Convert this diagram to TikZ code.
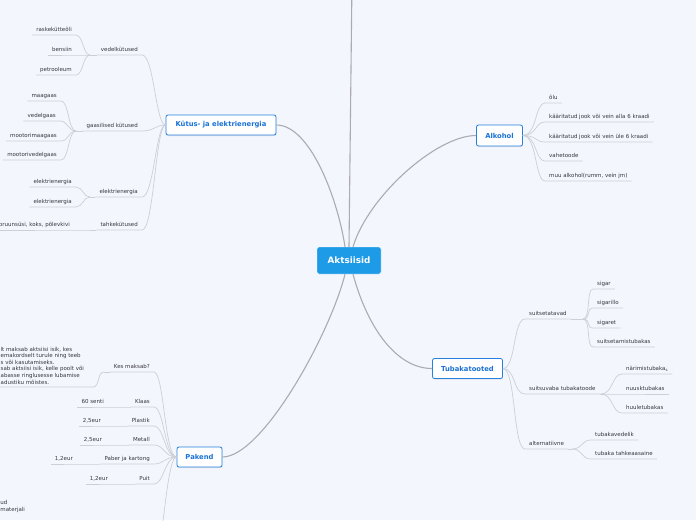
\documentclass[tikz,border=0pt]{standalone}
\usepackage{fontspec}
\setmainfont{DejaVu Sans}
\usetikzlibrary{shadows}
\definecolor{bgc}{RGB}{243,246,253}
\definecolor{mainc}{RGB}{172,172,176}
\definecolor{leafc}{RGB}{205,207,214}
\definecolor{leaftext}{RGB}{55,55,60}
\definecolor{boxblue}{RGB}{38,128,222}
\definecolor{boxtext}{RGB}{26,114,214}
\definecolor{centerfill}{RGB}{30,155,230}
\newcommand\leaffnt{\fontsize{5.5}{6.6}\selectfont}
\tikzset{
  leaf/.style={font=\leaffnt, text=leaftext, inner xsep=4pt, inner ysep=0pt, text height=4.5pt, text depth=3.6pt},
  lleaf/.style={leaf, anchor=south east},
  rleaf/.style={leaf, anchor=south west},
  mainline/.style={draw=mainc, line width=1.1pt},
  leafline/.style={draw=leafc, line width=0.7pt},
  topicbox/.style={draw=boxblue, line width=0.8pt, fill=white, rounded corners=2pt, text=boxtext,
    font=\fontsize{6.8}{8}\selectfont\bfseries, inner sep=0pt,
    drop shadow={opacity=0.18, shadow xshift=0.4pt, shadow yshift=-1pt}},
  centerbox/.style={fill=centerfill, draw=white, line width=0.4pt, rounded corners=2pt, text=white,
    font=\fontsize{8.8}{10}\selectfont\bfseries, inner sep=0pt, minimum width=64pt, minimum height=27pt}
}
\begin{document}
\begin{tikzpicture}[x=1pt,y=-1pt]
\useasboundingbox (0,0) rectangle (696,520);
\fill[bgc] (0,0) rectangle (696,520);
\begin{scope}
\clip (0,0) rectangle (696,520);

% ---------- coordinates ----------
\coordinate (topoff) at (352,-20);
\coordinate (Jv) at (90,55);
\coordinate (Jg) at (76,131);
\coordinate (Je) at (90,197);
\coordinate (Jt) at (90,230);
\coordinate (Js) at (583,319);
\coordinate (Jsv) at (601,394);
\coordinate (Jal) at (572,449);
\coordinate (Jkm) at (104,372);
\coordinate (kdR) at (93,387);
\coordinate (kdL) at (-3,387);
\coordinate (offc) at (148,585);

% ---------- main nodes ----------
\node[centerbox] (A) at (349,260.5) {Aktsiisid};
\node[topicbox, minimum width=110pt, minimum height=20pt] (K) at (221,125) {Kütus- ja elektrienergia};
\node[topicbox, minimum width=46pt, minimum height=21pt] (Al) at (499.5,135.5) {Alkohol};
\node[topicbox, minimum width=70pt, minimum height=20pt] (T) at (467.5,368.5) {Tubakatooted};
\node[topicbox, minimum width=45pt, minimum height=20pt] (P) at (199.5,457) {Pakend};

% ---------- Kütus- ja elektrienergia ----------
\node[lleaf] (vedel) at (142,55) {vedelkütused};
\node[lleaf] (gaas) at (142,131) {gaasilised kütused};
\node[lleaf] (elek) at (142,197) {elektrienergia};
\node[lleaf] (tahke) at (142,230) {tahkekütused};
\node[lleaf] (raske) at (76,35) {raskekütteõli};
\node[lleaf] (bens) at (76,55) {bensiin};
\node[lleaf] (petro) at (76,75) {petrooleum};
\node[lleaf] (maag) at (61,101) {maagaas};
\node[lleaf] (vedg) at (60,121) {vedelgaas};
\node[lleaf] (mmaag) at (61,141) {mootorimaagaas};
\node[lleaf] (mvedg) at (61,160) {mootorivedelgaas};
\node[lleaf] (elek1) at (76,187) {elektrienergia};
\node[lleaf] (elek2) at (76,207) {elektrienergia};
\node[lleaf] (tahk1) at (74,230) {pruunsüsi, koks, põlevkivi};

\foreach \n in {vedel,gaas,elek,tahke}
  \draw[leafline] (K.west) .. controls +(-10,0) and +(12,0) .. (\n.south east) -- (\n.south west);
\draw[leafline] (vedel.south west) -- (Jv);
\draw[leafline] (gaas.south west) -- (Jg);
\draw[leafline] (elek.south west) -- (Je);
\draw[leafline] (tahke.south west) -- (Jt);
\foreach \n in {raske,bens,petro}
  \draw[leafline] (Jv) .. controls +(-7,0) and +(7,0) .. (\n.south east) -- (\n.south west);
\foreach \n in {maag,vedg,mmaag,mvedg}
  \draw[leafline] (Jg) .. controls +(-8,0) and +(8,0) .. (\n.south east) -- (\n.south west);
\foreach \n in {elek1,elek2}
  \draw[leafline] (Je) .. controls +(-7,0) and +(7,0) .. (\n.south east) -- (\n.south west);
\draw[leafline] (Jt) -- (tahk1.south east) -- (tahk1.south west);

% ---------- Alkohol ----------
\node[rleaf] (olu) at (545,103) {õlu};
\node[rleaf] (alla) at (545,122) {kääritatud jook või vein alla 6 kraadi};
\node[rleaf] (yle) at (545,142) {kääritatud jook või vein üle 6 kraadi};
\node[rleaf] (vahe) at (545,161) {vahetoode};
\node[rleaf] (muu) at (545,181) {muu alkohol(rumm, vein jm)};
\foreach \n in {olu,alla,yle,vahe,muu}
  \draw[leafline] (Al.east) .. controls +(14,0) and +(-10,0) .. (\n.south west) -- (\n.south east);

% ---------- Tubakatooted ----------
\node[rleaf] (suits) at (525,319) {suitsetatavad};
\node[rleaf] (svaba) at (525,394) {suitsuvaba tubakatoode};
\node[rleaf] (alt) at (525,449) {alternatiivne};
\node[rleaf] (sigar) at (593,289) {sigar};
\node[rleaf] (sigarillo) at (593,308) {sigarillo};
\node[rleaf] (sigaret) at (593,328) {sigaret};
\node[rleaf] (suitstub) at (593,347) {suitsetamistubakas};
\node[rleaf] (narim) at (622,374) {närimistubaka\textsubscript{s}};
\node[rleaf] (nuusk) at (622,394) {nuusktubakas};
\node[rleaf] (huule) at (622,413) {huuletubakas};
\node[rleaf] (tvedel) at (591,440) {tubakavedelik};
\node[rleaf] (ttahke) at (591,459) {tubaka tahkeaasaine};
\foreach \n in {suits,svaba,alt}
  \draw[leafline] (T.east) .. controls +(13,0) and +(-12,0) .. (\n.south west) -- (\n.south east);
\draw[leafline] (suits.south east) -- (Js);
\draw[leafline] (svaba.south east) -- (Jsv);
\draw[leafline] (alt.south east) -- (Jal);
\foreach \n in {sigar,sigarillo,sigaret,suitstub}
  \draw[leafline] (Js) .. controls +(8,0) and +(-7,0) .. (\n.south west) -- (\n.south east);
\foreach \n in {narim,nuusk,huule}
  \draw[leafline] (Jsv) .. controls +(12,0) and +(-10,0) .. (\n.south west) -- (\n.south east);
\foreach \n in {tvedel,ttahke}
  \draw[leafline] (Jal) .. controls +(11,0) and +(-10,0) .. (\n.south west) -- (\n.south east);

% ---------- Pakend ----------
\node[lleaf] (kes) at (154,372) {Kes maksab?};
\node[font=\leaffnt, text=leaftext, align=left, anchor=north west, inner sep=0pt] (kesdesc) at (0.5,346.8)
  {lt maksab aktsiisi isik, kes\\emakordselt turule ning teeb\\s või kasutamiseks.\\sab aktsiisi isik, kelle poolt või\\abasse ringlusesse lubamise\\adustiku mõistes.};
\node[lleaf] (klaas) at (154,407) {Klaas};
\node[lleaf] (senti) at (108,407) {60 senti};
\node[lleaf] (plastik) at (154,426) {Plastik};
\node[lleaf] (eur1) at (105,426) {2,5eur};
\node[lleaf] (metall) at (154,445) {Metall};
\node[lleaf] (eur2) at (106,445) {2,5eur};
\node[lleaf] (paber) at (154,464) {Paber ja kartong};
\node[lleaf] (eur3) at (77,464) {1,2eur};
\node[lleaf] (puit) at (154,484) {Puit};
\node[lleaf] (eur4) at (112,484) {1,2eur};
\node[font=\leaffnt, text=leaftext, align=left, anchor=north west, inner sep=0pt] (offtext) at (0.3,500.6)
  {ud\\materjali};

\foreach \n in {kes,klaas,plastik,metall,paber,puit}
  \draw[leafline] (P.west) .. controls +(-12,0) and +(10,0) .. (\n.south east) -- (\n.south west);
\draw[leafline] (P.west) .. controls +(-12,0) and +(14,0) .. (offc);
\draw[leafline] (kes.south west) -- (Jkm);
\draw[leafline] (Jkm) .. controls +(-7,0) and +(7,0) .. (kdR) -- (kdL);
\draw[leafline] (klaas.south west) -- (senti.south east) -- (senti.south west);
\draw[leafline] (plastik.south west) -- (eur1.south east) -- (eur1.south west);
\draw[leafline] (metall.south west) -- (eur2.south east) -- (eur2.south west);
\draw[leafline] (paber.south west) -- (eur3.south east) -- (eur3.south west);
\draw[leafline] (puit.south west) -- (eur4.south east) -- (eur4.south west);

% ---------- main connectors ----------
\draw[mainline] (A.north) -- (topoff);
\draw[mainline] ([xshift=-4pt]A.north) .. controls +(-7,-47) and +(34,0) .. (K.east);
\draw[mainline] ([xshift=4pt]A.north) .. controls +(15,-50) and +(-40,0) .. (Al.west);
\draw[mainline] ([xshift=4pt]A.south) .. controls +(15,55) and +(-35,0) .. (T.west);
\draw[mainline] ([xshift=-4pt]A.south) .. controls +(-15,60) and +(40,0) .. (P.east);
\end{scope}
\end{tikzpicture}
\end{document}
